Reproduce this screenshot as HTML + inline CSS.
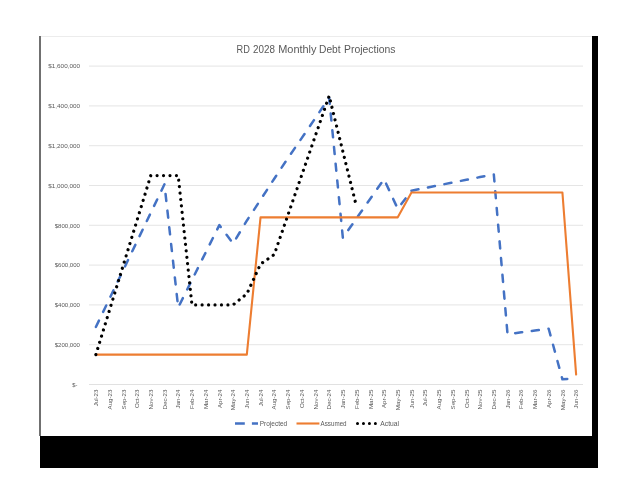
<!DOCTYPE html>
<html lang="en">
<head>
<meta charset="utf-8">
<title>RD 2028 Monthly Debt Projections</title>
<style>
html,body{margin:0;padding:0;background:#fff;}
body{width:640px;height:480px;overflow:hidden;}
svg{display:block;}
text{font-family:"Liberation Sans",sans-serif;fill:#595959;}
.ax{font-size:6.2px;}
.lg{font-size:6.4px;}
.ttl{font-size:10.1px;}
</style>
</head>
<body>
<svg width="640" height="480" viewBox="0 0 640 480">
<rect x="0" y="0" width="640" height="480" fill="#ffffff"/>
<!-- frame -->
<rect x="40" y="36" width="558" height="432" fill="#000000"/>
<rect x="40" y="36" width="552" height="400" fill="#ffffff"/>
<rect x="41" y="36" width="551" height="1" fill="#ececec"/>
<rect x="39" y="36" width="2" height="400" fill="#707070"/>

<g stroke="#dedede" stroke-width="0.8" fill="none">
<line x1="89.0" y1="344.70" x2="583.0" y2="344.70"/>
<line x1="89.0" y1="304.90" x2="583.0" y2="304.90"/>
<line x1="89.0" y1="265.10" x2="583.0" y2="265.10"/>
<line x1="89.0" y1="225.30" x2="583.0" y2="225.30"/>
<line x1="89.0" y1="185.50" x2="583.0" y2="185.50"/>
<line x1="89.0" y1="145.70" x2="583.0" y2="145.70"/>
<line x1="89.0" y1="105.90" x2="583.0" y2="105.90"/>
<line x1="89.0" y1="66.10" x2="583.0" y2="66.10"/>
</g>
<line x1="89.0" y1="384.5" x2="583.0" y2="384.5" stroke="#d9d9d9" stroke-width="0.8"/>
<text class="ttl" y="53.1" xml:space="preserve"><tspan x="236.6" textLength="13.3" lengthAdjust="spacingAndGlyphs">RD</tspan> <tspan x="253" textLength="21.9" lengthAdjust="spacingAndGlyphs">2028</tspan> <tspan x="278.2" textLength="38.3" lengthAdjust="spacingAndGlyphs">Monthly</tspan> <tspan x="319" textLength="21.6" lengthAdjust="spacingAndGlyphs">Debt</tspan> <tspan x="344" textLength="51.5" lengthAdjust="spacingAndGlyphs">Projections</tspan></text>
<text class="ax" x="77.5" y="386.70" text-anchor="end" textLength="5.2" lengthAdjust="spacingAndGlyphs">$-</text>
<text class="ax" x="80" y="346.90" text-anchor="end" textLength="25.3" lengthAdjust="spacingAndGlyphs">$200,000</text>
<text class="ax" x="80" y="307.10" text-anchor="end" textLength="25.3" lengthAdjust="spacingAndGlyphs">$400,000</text>
<text class="ax" x="80" y="267.30" text-anchor="end" textLength="25.3" lengthAdjust="spacingAndGlyphs">$600,000</text>
<text class="ax" x="80" y="227.50" text-anchor="end" textLength="25.3" lengthAdjust="spacingAndGlyphs">$800,000</text>
<text class="ax" x="80" y="187.70" text-anchor="end" textLength="31.7" lengthAdjust="spacingAndGlyphs">$1,000,000</text>
<text class="ax" x="80" y="147.90" text-anchor="end" textLength="31.7" lengthAdjust="spacingAndGlyphs">$1,200,000</text>
<text class="ax" x="80" y="108.10" text-anchor="end" textLength="31.7" lengthAdjust="spacingAndGlyphs">$1,400,000</text>
<text class="ax" x="80" y="68.30" text-anchor="end" textLength="31.7" lengthAdjust="spacingAndGlyphs">$1,600,000</text>
<text class="ax" transform="translate(98.06,389.5) rotate(-90)" text-anchor="end">Jul-23</text>
<text class="ax" transform="translate(111.78,389.5) rotate(-90)" text-anchor="end">Aug-23</text>
<text class="ax" transform="translate(125.51,389.5) rotate(-90)" text-anchor="end">Sep-23</text>
<text class="ax" transform="translate(139.23,389.5) rotate(-90)" text-anchor="end">Oct-23</text>
<text class="ax" transform="translate(152.95,389.5) rotate(-90)" text-anchor="end">Nov-23</text>
<text class="ax" transform="translate(166.67,389.5) rotate(-90)" text-anchor="end">Dec-23</text>
<text class="ax" transform="translate(180.39,389.5) rotate(-90)" text-anchor="end">Jan-24</text>
<text class="ax" transform="translate(194.12,389.5) rotate(-90)" text-anchor="end">Feb-24</text>
<text class="ax" transform="translate(207.84,389.5) rotate(-90)" text-anchor="end">Mar-24</text>
<text class="ax" transform="translate(221.56,389.5) rotate(-90)" text-anchor="end">Apr-24</text>
<text class="ax" transform="translate(235.28,389.5) rotate(-90)" text-anchor="end">May-24</text>
<text class="ax" transform="translate(249.01,389.5) rotate(-90)" text-anchor="end">Jun-24</text>
<text class="ax" transform="translate(262.73,389.5) rotate(-90)" text-anchor="end">Jul-24</text>
<text class="ax" transform="translate(276.45,389.5) rotate(-90)" text-anchor="end">Aug-24</text>
<text class="ax" transform="translate(290.17,389.5) rotate(-90)" text-anchor="end">Sep-24</text>
<text class="ax" transform="translate(303.89,389.5) rotate(-90)" text-anchor="end">Oct-24</text>
<text class="ax" transform="translate(317.62,389.5) rotate(-90)" text-anchor="end">Nov-24</text>
<text class="ax" transform="translate(331.34,389.5) rotate(-90)" text-anchor="end">Dec-24</text>
<text class="ax" transform="translate(345.06,389.5) rotate(-90)" text-anchor="end">Jan-25</text>
<text class="ax" transform="translate(358.78,389.5) rotate(-90)" text-anchor="end">Feb-25</text>
<text class="ax" transform="translate(372.51,389.5) rotate(-90)" text-anchor="end">Mar-25</text>
<text class="ax" transform="translate(386.23,389.5) rotate(-90)" text-anchor="end">Apr-25</text>
<text class="ax" transform="translate(399.95,389.5) rotate(-90)" text-anchor="end">May-25</text>
<text class="ax" transform="translate(413.67,389.5) rotate(-90)" text-anchor="end">Jun-25</text>
<text class="ax" transform="translate(427.39,389.5) rotate(-90)" text-anchor="end">Jul-25</text>
<text class="ax" transform="translate(441.12,389.5) rotate(-90)" text-anchor="end">Aug-25</text>
<text class="ax" transform="translate(454.84,389.5) rotate(-90)" text-anchor="end">Sep-25</text>
<text class="ax" transform="translate(468.56,389.5) rotate(-90)" text-anchor="end">Oct-25</text>
<text class="ax" transform="translate(482.28,389.5) rotate(-90)" text-anchor="end">Nov-25</text>
<text class="ax" transform="translate(496.01,389.5) rotate(-90)" text-anchor="end">Dec-25</text>
<text class="ax" transform="translate(509.73,389.5) rotate(-90)" text-anchor="end">Jan-26</text>
<text class="ax" transform="translate(523.45,389.5) rotate(-90)" text-anchor="end">Feb-26</text>
<text class="ax" transform="translate(537.17,389.5) rotate(-90)" text-anchor="end">Mar-26</text>
<text class="ax" transform="translate(550.89,389.5) rotate(-90)" text-anchor="end">Apr-26</text>
<text class="ax" transform="translate(564.62,389.5) rotate(-90)" text-anchor="end">May-26</text>
<text class="ax" transform="translate(578.34,389.5) rotate(-90)" text-anchor="end">Jun-26</text>
<polyline points="95.86,326.99 109.58,298.45 123.31,269.92 137.03,241.38 150.75,212.84 164.47,184.31 178.19,307.49 191.92,280.02 205.64,252.56 219.36,225.10 233.08,243.41 246.81,220.72 260.53,199.83 274.25,178.73 287.97,158.04 301.69,138.14 315.42,118.04 329.14,97.54 342.86,237.84 356.58,218.27 370.31,198.70 384.03,179.13 397.75,208.78 411.47,190.67 425.19,187.95 438.92,185.23 452.64,182.52 466.36,179.80 480.08,177.08 493.81,174.36 507.53,334.15 521.25,332.36 534.97,330.57 548.69,328.78 562.42,379.33 573.94,378.53" fill="none" stroke="#4472c4" stroke-width="2.5" stroke-dasharray="7.1 9.7" stroke-linecap="round" stroke-linejoin="round"/>
<polyline points="95.86,354.65 109.58,354.65 123.31,354.65 137.03,354.65 150.75,354.65 164.47,354.65 178.19,354.65 191.92,354.65 205.64,354.65 219.36,354.65 233.08,354.65 246.81,354.65 260.53,217.34 274.25,217.34 287.97,217.34 301.69,217.34 315.42,217.34 329.14,217.34 342.86,217.34 356.58,217.34 370.31,217.34 384.03,217.34 397.75,217.34 411.47,192.47 425.19,192.47 438.92,192.47 452.64,192.47 466.36,192.47 480.08,192.47 493.81,192.47 507.53,192.47 521.25,192.47 534.97,192.47 548.69,192.47 562.42,192.47 576.14,374.55" fill="none" stroke="#ed7d31" stroke-width="2.1" stroke-linejoin="round" stroke-linecap="round"/>
<polyline points="95.86,354.65 109.58,309.88 123.31,265.10 137.03,220.33 150.75,175.55 164.47,175.55 178.19,175.55 191.92,304.90 205.64,304.90 219.36,304.90 233.08,304.90 246.81,293.96 260.53,264.11 274.25,254.55 287.97,214.90 301.69,175.25 315.42,135.60 329.14,95.95 342.86,151.47 356.58,206.99" fill="none" stroke="#000000" stroke-width="3.2" stroke-dasharray="0.01 6.445" stroke-linecap="round" stroke-linejoin="round"/>
<line x1="235" y1="423.5" x2="258" y2="423.5" stroke="#4472c4" stroke-width="2.4" stroke-dasharray="9.8 7.1"/>
<text class="lg" x="259.7" y="425.7" textLength="27.5" lengthAdjust="spacingAndGlyphs">Projected</text>
<line x1="296.5" y1="423.5" x2="319.4" y2="423.5" stroke="#ed7d31" stroke-width="2.1"/>
<text class="lg" x="320.6" y="425.7" textLength="26" lengthAdjust="spacingAndGlyphs">Assumed</text>
<line x1="357.5" y1="423.5" x2="377" y2="423.5" stroke="#000" stroke-width="3" stroke-dasharray="0.01 5.95" stroke-linecap="round"/>
<text class="lg" x="380.3" y="425.7" textLength="18.7" lengthAdjust="spacingAndGlyphs">Actual</text>
</svg>
</body>
</html>
